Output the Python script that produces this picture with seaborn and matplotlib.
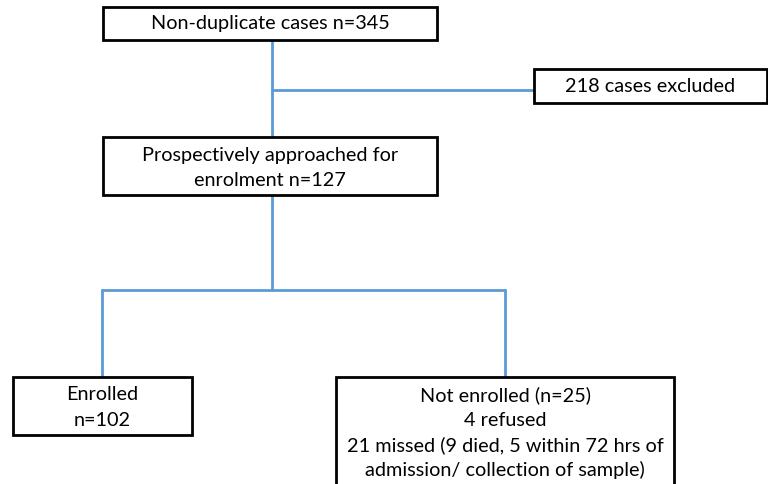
import matplotlib
matplotlib.use("Agg")
import matplotlib.pyplot as plt
import seaborn as sns
import pandas as pd
from matplotlib.patches import Rectangle

sns.set_theme(style="white")
plt.rcParams['font.family'] = ['Lato', 'DejaVu Sans']

# Box texts
box_texts = [
    "Non-duplicate cases n=345",
    "218 cases excluded",
    "Prospectively approached for\nenrolment n=127",
    "Enrolled\nn=102",
    "Not enrolled (n=25)\n4 refused\n21 missed (9 died, 5 within 72 hrs of\nadmission/ collection of sample)",
]
# Box frames in pixel space: left, top, right, bottom
box_left = [103, 534, 103, 13, 336]
box_top = [7, 69, 137, 377, 377]
box_right = [437, 767, 437, 192, 674]
box_bottom = [40, 103, 195, 435, 490]
# Text anchor (centre x, first-line y)
text_x = [270, 650, 270, 102, 505]
text_y = [24, 87, 155, 395, 395]

# Connector polylines (x list, y list)
connectors = [
    ([272, 272], [40, 137]),
    ([272, 534], [90, 90]),
    ([272, 272], [195, 290]),
    ([102, 505], [290, 290]),
    ([102, 102], [290, 377]),
    ([505, 505], [290, 377]),
]

fig = plt.figure(figsize=(7.68, 4.84), dpi=100)
ax = fig.add_axes([0, 0, 1, 1])

line_color = "#5b9bd5"
for xs, ys in connectors:
    df = pd.DataFrame({"x": xs, "y": ys})
    sns.lineplot(data=df, x="x", y="y", sort=False, ax=ax,
                 color=line_color, linewidth=2, estimator=None)

for t, l, tp, r, b, tx, ty in zip(box_texts, box_left, box_top, box_right,
                                  box_bottom, text_x, text_y):
    ax.add_patch(Rectangle((l, tp), r - l, b - tp, facecolor="white",
                           edgecolor="black", linewidth=2, zorder=3))
    for k, line in enumerate(t.split("\n")):
        ax.text(tx, ty + k * 25, line, ha="center", va="center",
                fontsize=14.3, color="black", zorder=4)

ax.set_xlim(0, 768)
ax.set_ylim(484, 0)
ax.axis("off")
fig.savefig("out.png", dpi=100)
